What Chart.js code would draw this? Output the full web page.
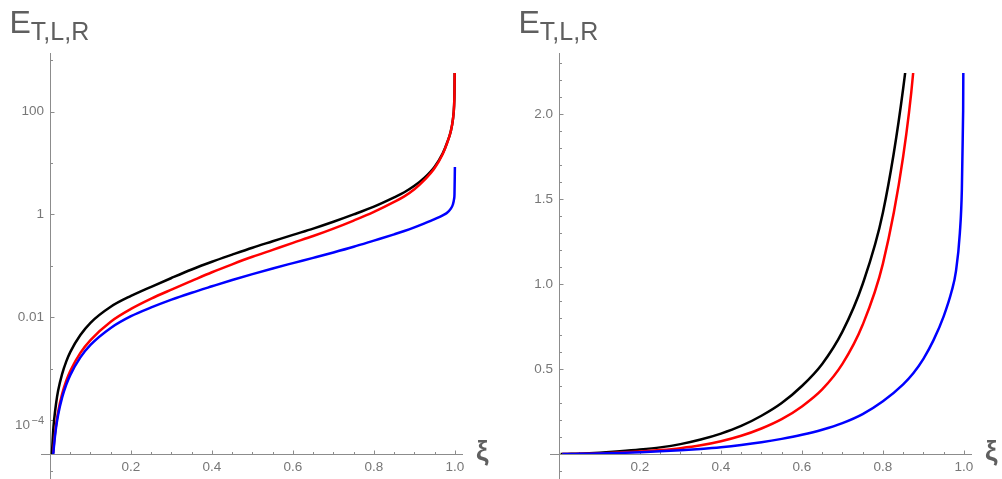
<!DOCTYPE html>
<html>
<head>
<meta charset="utf-8">
<script src="https://cdn.jsdelivr.net/npm/chart.js@4.4.1/dist/chart.umd.min.js"></script>
<style>
    body { margin: 0; background: #fff; width: 1002px; height: 479px; overflow: hidden; position: relative;
           font-family: "Liberation Sans", Arial, sans-serif; }
    .panel { position: absolute; top: 0; width: 501px; height: 479px; }
    canvas { display: block; }
    .ytitle { position: absolute; top: 6px; font-size: 32px; line-height: 32px; color: #5f5f5f; white-space: nowrap; }
    .ytitle span { font-size: 25px; position: relative; top: 6.5px; }
    .xtitle { position: absolute; top: 437px; font-size: 28px; line-height: 28px; font-weight: bold; color: #5f5f5f; }
</style>
</head>
<body>
<div class="panel" style="left:0"><canvas id="logChart" width="501" height="479"></canvas></div>
<div class="panel" style="left:501px"><canvas id="linChart" width="501" height="479"></canvas></div>
<div class="ytitle" style="left:9.5px">E<span>T,L,R</span></div>
<div class="ytitle" style="left:518.5px">E<span>T,L,R</span></div>
<div class="xtitle" style="left:476px">ξ</div>
<div class="xtitle" style="left:985px">ξ</div>

<script>
const xi = [0.004, 0.008, 0.01, 0.015, 0.02, 0.03, 0.04, 0.05, 0.075, 0.1, 0.15, 0.2, 0.25, 0.3, 0.35,
    0.4, 0.45, 0.5, 0.55, 0.6, 0.65, 0.7, 0.75, 0.8, 0.85, 0.875, 0.9, 0.925, 0.95, 0.97, 0.98,
    0.99, 0.995, 0.998, 0.999, 1.0];

const eBlack = [1.7e-5, 6.4e-5, 9.8e-5, 2.1e-4, 3.7e-4, 7.9e-4, 1.37e-3, 2.1e-3, 4.5e-3, 7.8e-3, 0.016, 0.026, 0.039, 0.058, 0.085,
    0.12, 0.165, 0.225, 0.30, 0.40, 0.53, 0.72, 1.0, 1.42, 2.15, 2.7, 3.6, 5.2, 8.5, 15.5, 24,
    42, 70, 130, 250, 2000];

const eRed = [null, 2.3e-5, 3.6e-5, 8.1e-5, 1.44e-4, 3.24e-4, 5.76e-4, 9e-4, 2.03e-3, 3.6e-3, 8.2e-3, 0.0145, 0.023, 0.0345, 0.051,
    0.075, 0.107, 0.150, 0.205, 0.28, 0.38, 0.53, 0.76, 1.12, 1.75, 2.25, 3.1, 4.7, 8.0, 15, 23.5,
    42, 70, 130, 250, 2000];

const eBlue = [null, 2.1e-5, 3.26e-5, 7.2e-5, 1.26e-4, 2.76e-4, 4.86e-4, 7.5e-4, 1.66e-3, 2.9e-3, 6.2e-3, 0.0105, 0.0155, 0.022, 0.030,
    0.040, 0.053, 0.069, 0.089, 0.113, 0.143, 0.182, 0.235, 0.31, 0.41, 0.475, 0.56, 0.67, 0.81, 0.96, 1.07,
    1.3, 1.56, 2.0, 2.5, 8.4];

const xMajorTicks = [0.2, 0.4, 0.6, 0.8, 1.0];
const xMinorTicks = [0.05, 0.1, 0.15, 0.25, 0.3, 0.35, 0.45, 0.5, 0.55, 0.65, 0.7, 0.75, 0.85, 0.9, 0.95];
const logMajorTicks = [1e-4, 0.01, 1, 100];
const logMinorTicks = [1e-5, 1e-3, 0.1, 10, 1000];
const logTickLabels = ['10^-4', '0.01', '1', '100'];
const linMajorTicks = [0.5, 1.0, 1.5, 2.0];
const linMinorTicks = [-0.1, 0.1, 0.2, 0.3, 0.4, 0.6, 0.7, 0.8, 0.9, 1.1, 1.2, 1.3, 1.4,
    1.6, 1.7, 1.8, 1.9, 2.1, 2.2, 2.3];
const linTickLabels = ['0.5', '1.0', '1.5', '2.0'];

const AXIS_COLOR = '#8c8c8c';
const LABEL_COLOR = '#777777';
const FONT_FAMILY = '"Liberation Sans", Arial, sans-serif';
const tickFont = { family: FONT_FAMILY, size: 13.5 };

// Mathematica style axes: lines crossing near the origin, ticks pointing inward
const axesPlugin = {
    id: 'mmaAxes',
    beforeDatasetsDraw(chart, args, opts) {
        const { ctx, chartArea: a, scales: { x, y } } = chart;
        const x0 = Math.round(x.getPixelForValue(0)) + 0.5;
        const yb = Math.round(a.bottom) + 0.5;
        ctx.save();
        ctx.strokeStyle = AXIS_COLOR;
        ctx.lineWidth = 1;
        ctx.beginPath();
        ctx.moveTo(a.left - 9, yb);
        ctx.lineTo(a.right, yb);
        ctx.moveTo(x0, a.top);
        ctx.lineTo(x0, chart.height);
        const drawX = (vals, len) => vals.forEach(v => {
            const px = Math.round(x.getPixelForValue(v)) + 0.5;
            ctx.moveTo(px, yb);
            ctx.lineTo(px, yb - len);
        });
        const drawY = (vals, len) => vals.forEach(v => {
            const py = Math.round(y.getPixelForValue(v)) + 0.5;
            ctx.moveTo(x0, py);
            ctx.lineTo(x0 + len, py);
        });
        drawX(xMajorTicks, 4);
        drawX(xMinorTicks, 2.5);
        drawY(opts.major, 4);
        drawY(opts.minor, 2.5);
        ctx.stroke();
        ctx.restore();
    },
    // labels like 10^-4 are drawn here with a raised exponent
    afterDraw(chart, args, opts) {
        const { ctx, chartArea: a, scales: { y } } = chart;
        opts.labels.forEach((lab, i) => {
            if (lab.indexOf('^') < 0) return;
            const parts = lab.split('^');
            const exp = parts[1].replace('-', '\u2212');
            const py = y.getPixelForValue(opts.major[i]);
            const right = a.left - 6;
            ctx.save();
            ctx.fillStyle = LABEL_COLOR;
            ctx.textAlign = 'right';
            ctx.textBaseline = 'alphabetic';
            ctx.font = '11px ' + FONT_FAMILY;
            ctx.fillText(exp, right, py + 3.5);
            const w = ctx.measureText(exp).width;
            ctx.font = '13.5px ' + FONT_FAMILY;
            ctx.fillText(parts[0], right - w - 1.5, py + 8.5);
            ctx.restore();
        });
    }
};

function series(values, color) {
    return {
        data: xi.map((x, i) => values[i] == null ? null : { x: x, y: values[i] }).filter(p => p),
        borderColor: color,
        borderWidth: 2.5,
        pointRadius: 0,
        fill: false,
        cubicInterpolationMode: 'monotone',
        clip: { left: false, right: false, bottom: 0, top: -20 }
    };
}

function makeChart(id, yScale, majors, minors, labels, axisWidth, padRight) {
    const ctx = document.getElementById(id).getContext('2d');
    return new Chart(ctx, {
        type: 'line',
        data: {
            // first dataset is drawn on top
            datasets: [series(eBlue, '#0000ff'), series(eRed, '#ff0000'), series(eBlack, '#000000')]
        },
        options: {
            responsive: false,
            animation: false,
            layout: { padding: { top: 53, right: padRight, left: 0, bottom: 0 } },
            plugins: {
                legend: { display: false },
                tooltip: { enabled: false },
                mmaAxes: { major: majors, minor: minors, labels: labels }
            },
            scales: {
                x: {
                    type: 'linear',
                    min: 0,
                    max: 1.02,
                    grid: { display: false, drawTicks: false },
                    border: { display: false },
                    afterFit: s => { s.height = 25; },
                    afterBuildTicks: s => { s.ticks = xMajorTicks.map(v => ({ value: v })); },
                    ticks: {
                        padding: 5,
                        color: LABEL_COLOR,
                        font: tickFont,
                        autoSkip: false,
                        maxRotation: 0,
                        callback: v => v.toFixed(1)
                    }
                },
                y: Object.assign({
                    grid: { display: false, drawTicks: false },
                    border: { display: false },
                    afterFit: s => { s.width = axisWidth; },
                    afterBuildTicks: s => { s.ticks = majors.map(v => ({ value: v })); },
                    ticks: {
                        padding: 6,
                        color: LABEL_COLOR,
                        font: tickFont,
                        autoSkip: false,
                        callback: (v, i) => labels[i].indexOf('^') < 0 ? labels[i] : ''
                    }
                }, yScale)
            }
        },
        plugins: [axesPlugin]
    });
}

makeChart('logChart', { type: 'logarithmic', min: Math.pow(10, -4.66), max: Math.pow(10, 3.14) },
    logMajorTicks, logMinorTicks, logTickLabels, 50, 38);
makeChart('linChart', { type: 'linear', min: 0, max: 2.359 },
    linMajorTicks, linMinorTicks, linTickLabels, 58, 30);
</script>
</body>
</html>
